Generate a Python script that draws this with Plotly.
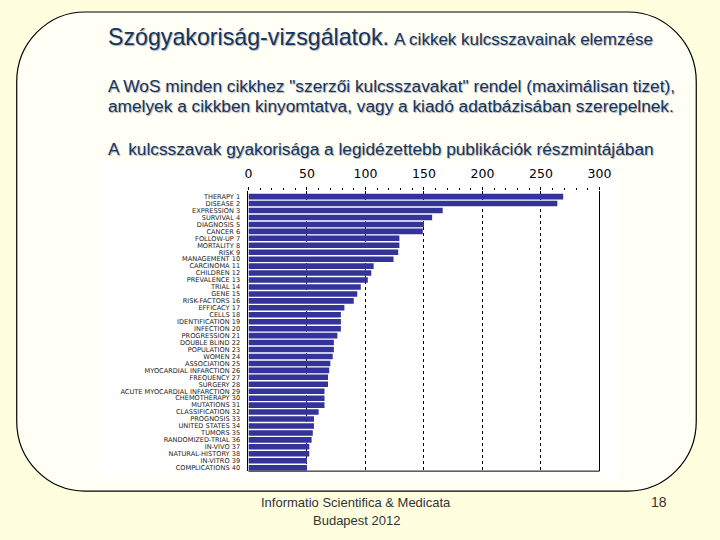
import plotly.graph_objects as go

keywords = ["THERAPY 1", "DISEASE 2", "EXPRESSION 3", "SURVIVAL 4", "DIAGNOSIS 5",
            "CANCER 6", "FOLLOW-UP 7", "MORTALITY 8", "RISK 9", "MANAGEMENT 10",
            "CARCINOMA 11", "CHILDREN 12", "PREVALENCE 13", "TRIAL 14", "GENE 15",
            "RISK-FACTORS 16", "EFFICACY 17", "CELLS 18", "IDENTIFICATION 19", "INFECTION 20",
            "PROGRESSION 21", "DOUBLE BLIND 22", "POPULATION 23", "WOMEN 24", "ASSOCIATION 25",
            "MYOCARDIAL INFARCTION 26", "FREQUENCY 27", "SURGERY 28",
            "ACUTE MYOCARDIAL INFARCTION 29", "CHEMOTHERAPY 30",
            "MUTATIONS 31", "CLASSIFICATION 32", "PROGNOSIS 33", "UNITED STATES 34", "TUMORS 35",
            "RANDOMIZED-TRIAL 36", "IN-VIVO 37", "NATURAL-HISTORY 38", "IN-VITRO 39",
            "COMPLICATIONS 40"]
counts = [269, 264, 166, 157, 150, 149, 129, 129, 128, 124,
          107, 105, 102, 96, 93, 90, 82, 79, 79, 79,
          76, 73, 73, 72, 70, 69, 68, 68, 65, 65,
          65, 60, 56, 56, 55, 54, 52, 52, 50, 50]
x_ticks = [0, 50, 100, 150, 200, 250, 300]

W, H = 720, 540
def px(x):
    return x / W
def py(y):
    return 1 - y / H

# plot area in pixels
PL, PR, PT, PB = 250, 609, 191, 472

fig = go.Figure()
fig.add_trace(go.Bar(
    x=counts, y=keywords, orientation="h",
    marker=dict(color="#333399", line=dict(width=0)),
    width=0.8, hoverinfo="x+y",
))

shapes = []
# slide background
shapes.append(dict(type="rect", xref="paper", yref="paper", x0=0, x1=1, y0=0, y1=1,
                   fillcolor="#FFFFE0", line=dict(width=0), layer="below"))
# rounded rectangle frame
L, R, T, B, r = 13, 708, 12, 492, 70
k = 0.5523 * r
pts = [
    ("M", [(L + r, T)]),
    ("L", [(R - r, T)]),
    ("C", [(R - r + k, T), (R, T + r - k), (R, T + r)]),
    ("L", [(R, B - r)]),
    ("C", [(R, B - r + k), (R - r + k, B), (R - r, B)]),
    ("L", [(L + r, B)]),
    ("C", [(L + r - k, B), (L, B - r + k), (L, B - r)]),
    ("L", [(L, T + r)]),
    ("C", [(L, T + r - k), (L + r - k, T), (L + r, T)]),
]
path = ""
for cmd, ps in pts:
    path += cmd + " " + " ".join(f"{px(a):.5f},{py(b):.5f}" for a, b in ps) + " "
path += "Z"
shapes.append(dict(type="path", xref="paper", yref="paper", path=path,
                   fillcolor="#FFFFF6", line=dict(color="#000000", width=1.2), layer="below"))
# chart image white area
shapes.append(dict(type="rect", xref="paper", yref="paper", x0=px(96), x1=px(630),
                   y0=py(478), y1=py(162), fillcolor="#FFFFFF", line=dict(width=0), layer="below"))
# bottom border of the plot
shapes.append(dict(type="line", xref="paper", yref="paper", x0=px(PL), x1=px(PR),
                   y0=py(PB), y1=py(PB), line=dict(color="#000000", width=1)))

text_col = "#17355A"
shadow = "1px 1px 1px #A8ADBA"
body_font = "Liberation Sans, Arial, sans-serif"
ann = []
def add_text(t, x, y, size, color=text_col, anchor="left", family=body_font, sh=shadow):
    ann.append(dict(text=t, x=px(x), y=py(y), xref="paper", yref="paper",
                    xanchor=anchor, yanchor="middle", showarrow=False,
                    font=dict(size=size, color=color, family=family, shadow=sh)))

add_text("Szógyakoriság-vizsgálatok.", 104, 37, 23.2)
add_text("A cikkek kulcsszavainak elemzése", 397, 40, 17)
add_text("A WoS minden cikkhez \"szerzői kulcsszavakat\" rendel (maximálisan tizet),", 104, 86, 17.3)
add_text("amelyek a cikkben kinyomtatva, vagy a kiadó adatbázisában szerepelnek.", 104, 106, 17.3)
add_text("A  kulcsszavak gyakorisága a legidézettebb publikációk részmintájában", 104, 149, 17.3)
add_text("Informatio Scientifica &amp; Medicata", 360, 503, 13, color="#333333", anchor="center", sh="none")
add_text("Budapest 2012", 360, 521, 13, color="#333333", anchor="center", sh="none")
add_text("18", 670, 503, 14, color="#333333", anchor="center", sh="none")

fig.update_layout(
    width=W, height=H,
    margin=dict(l=0, r=0, t=0, b=0),
    paper_bgcolor="#FFFFE0",
    plot_bgcolor="#FFFF99",
    showlegend=False,
    bargap=0.2,
    shapes=shapes,
    annotations=ann,
    xaxis=dict(
        domain=[px(PL), px(PR)], range=[0, 300], side="top",
        tickvals=x_ticks, ticktext=[str(v) for v in x_ticks],
        showgrid=True, gridcolor="#000000", griddash="dot", gridwidth=1,
        zeroline=False, showline=False,
        ticks="outside", ticklen=3, tickcolor="#000000",
        minor=dict(ticks="outside", dtick=10, ticklen=2, tickcolor="#000000", showgrid=False),
        tickfont=dict(family="DejaVu Sans, sans-serif", size=12.5, color="#000000"),
        ticklabelstandoff=4,
        fixedrange=True,
    ),
    yaxis=dict(
        domain=[py(PB), py(PT)], autorange=False, range=[39.5, -0.86],
        categoryorder="array", categoryarray=keywords,
        tickmode="array", tickvals=keywords, ticktext=keywords,
        showline=True, mirror=True, linecolor="#000000", linewidth=1,
        ticks="", showgrid=False, zeroline=False,
        tickfont=dict(family="DejaVu Sans, sans-serif", size=6.6, color="#222222"),
        ticklabelstandoff=6,
        fixedrange=True,
    ),
)

fig.write_html("out.html", config={"displayModeBar": False},
               post_script="document.body.style.margin='0px';document.body.style.overflow='hidden';")
